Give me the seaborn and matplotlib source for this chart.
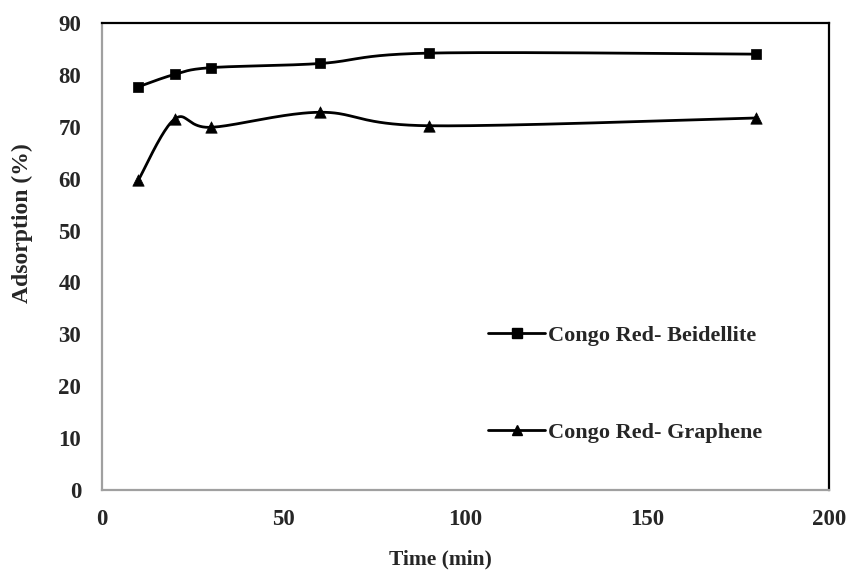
import numpy as np
import pandas as pd
import matplotlib
matplotlib.use("Agg")
import matplotlib.pyplot as plt
from matplotlib.lines import Line2D
import seaborn as sns

# Contact time (min) and adsorption (%) for each adsorbent
time_min = [10, 20, 30, 60, 90, 180]
beidellite = [77.7, 80.1, 81.4, 82.2, 84.2, 84.0]
graphene = [59.7, 71.5, 69.9, 72.8, 70.2, 71.7]
labels = ["Congo Red- Beidellite", "Congo Red- Graphene"]
x_ticks = [0, 50, 100, 150, 200]
y_ticks = [0, 10, 20, 30, 40, 50, 60, 70, 80, 90]


def smooth_curve(xs, ys, n=40):
    """Bezier smoothing through every point (spreadsheet-style smoothed line)."""
    p = np.column_stack([xs, ys]).astype(float)
    ext = np.vstack([p[0], p, p[-1]])
    out = []
    t = np.linspace(0, 1, n)[:, None]
    for i in range(len(p) - 1):
        p0, p1 = ext[i + 1], ext[i + 2]
        c1 = p0 + (ext[i + 2] - ext[i]) / 6.0
        c2 = p1 - (ext[i + 3] - ext[i + 1]) / 6.0
        seg = ((1 - t) ** 3) * p0 + 3 * ((1 - t) ** 2) * t * c1 + 3 * (1 - t) * t ** 2 * c2 + t ** 3 * p1
        out.append(seg if i == 0 else seg[1:])
    seg = np.vstack(out)
    return seg[:, 0], seg[:, 1]


sns.set_theme(style="white")
plt.rcParams["font.family"] = ["Liberation Serif", "DejaVu Serif"]
plt.rcParams["font.weight"] = "bold"

fig = plt.figure(figsize=(8.49, 5.74), dpi=100)
ax = fig.add_axes([0.1201, 0.1463, 0.8563, 0.8136])

series = [(beidellite, "s", 7.8), (graphene, "^", 8.2)]
handles = []
for (vals, mk, ms), lab in zip(series, labels):
    cx, cy = smooth_curve(time_min, vals)
    sns.lineplot(x=cx, y=cy, sort=False, estimator=None, color="black",
                 linewidth=2.0, ax=ax)
    sns.scatterplot(x=time_min, y=vals, marker=mk, s=ms ** 2, color="black",
                    edgecolor="black", linewidth=0.5, ax=ax, zorder=3)
    handles.append(Line2D([], [], color="black", linewidth=2.0, marker=mk,
                          markersize=ms * 0.85))

ax.set_xlim(0, 200)
ax.set_ylim(0, 90)
ax.set_xticks(x_ticks)
ax.set_yticks(y_ticks)
ax.tick_params(axis="x", direction="in", length=5, color="#a0a0a0", width=1,
               labelsize=16.5, pad=14)
ax.tick_params(axis="y", length=0, labelsize=16.5, pad=15)
for t in ax.get_xticklabels() + ax.get_yticklabels():
    t.set_fontweight("bold")

for side in ["left", "bottom"]:
    ax.spines[side].set_color("#a0a0a0")
    ax.spines[side].set_linewidth(1.6)
for side in ["top", "right"]:
    ax.spines[side].set_color("black")
    ax.spines[side].set_linewidth(1.6)

ax.set_xlabel("Time (min)", fontsize=15.5, fontweight="bold", va="center")
ax.set_ylabel("Adsorption (%)", fontsize=17, fontweight="bold", va="center")
ax.xaxis.set_label_coords(0.465, -0.148)
ax.yaxis.set_label_coords(-0.110, 0.572)

leg = ax.legend(handles, labels, loc="lower left", bbox_to_anchor=(0.503, 0.058),
                frameon=False, labelspacing=3.45, handlelength=2.6,
                handletextpad=0.1, prop={"weight": "bold", "size": 16})

fig.savefig("out.png", dpi=100)
